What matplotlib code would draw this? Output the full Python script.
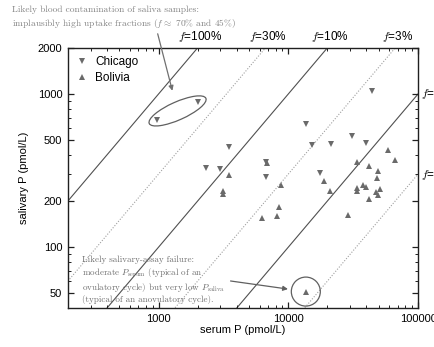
import numpy as np
import matplotlib
matplotlib.use('Agg')
import matplotlib.pyplot as plt
from matplotlib.patches import Ellipse, Circle
from matplotlib.transforms import ScaledTranslation
from matplotlib.ticker import FixedLocator, NullFormatter, FixedFormatter

plt.rcParams.update({'font.family': ['Liberation Sans', 'DejaVu Sans'],
                     'font.size': 8, 'mathtext.fontset': 'cm'})

# data (pmol/L)
chicago_serum = [2010, 977, 3490, 2340, 2960, 43900, 13800, 15300, 21300,
                 31100, 39500, 6700, 17500, 6700]
chicago_saliva = [887, 678, 453, 330, 324, 1046, 641, 467, 471,
                  533, 476, 286, 304, 362]
bolivia_serum = [3490, 3140, 3140, 8860, 8490, 8200, 6320, 18900, 20900,
                 28600, 33600, 41900, 49300, 48000, 58300, 66400, 33600,
                 33600, 37800, 39500, 50900, 47100, 49300, 41900, 13650, 6900]
bolivia_saliva = [294, 231, 223, 256, 183, 159, 154, 272, 234,
                  163, 358, 337, 313, 284, 431, 371, 244,
                  234, 253, 247, 241, 229, 218, 205, 51.3, 356]

f_solid = [1.0, 0.1, 0.01]
f_dotted = [0.3, 0.03, 0.003]
f_labels = {1.0: '100%', 0.3: '30%', 0.1: '10%', 0.03: '3%',
            0.01: '1%', 0.003: '0.3%'}

xlim = (200, 100000)
ylim = (40, 2000)

fig = plt.figure(figsize=(4.35, 3.47), dpi=100)
ax = fig.add_axes([0.156, 0.112, 0.805, 0.75])

xs = np.array(xlim)
for f in f_solid:
    ax.plot(xs, f * xs, color='#505050', lw=0.8, zorder=1)
for f in f_dotted:
    ax.plot(xs, f * xs, color='#a0a0a0', lw=0.8, ls=(0, (1, 1.5)), zorder=1)

ax.plot(chicago_serum, chicago_saliva, 'v', color='#6a6a6a', ms=4.2,
        mew=0, label='Chicago', zorder=3)
ax.plot(bolivia_serum, bolivia_saliva, '^', color='#6a6a6a', ms=4.2,
        mew=0, label='Bolivia', zorder=3)

ax.set_xscale('log')
ax.set_yscale('log')
ax.set_xlim(*xlim)
ax.set_ylim(*ylim)

ax.xaxis.set_major_locator(FixedLocator([1000, 10000, 100000]))
ax.xaxis.set_major_formatter(FixedFormatter(['1000', '10000', '100000']))
xminor = [m * 10 ** e for e in (2, 3, 4) for m in range(2, 10)]
ax.xaxis.set_minor_locator(FixedLocator(xminor))
ax.xaxis.set_minor_formatter(NullFormatter())
yticks = [50, 100, 200, 500, 1000, 2000]
ax.yaxis.set_major_locator(FixedLocator(yticks))
ax.yaxis.set_major_formatter(FixedFormatter([str(t) for t in yticks]))
ax.yaxis.set_minor_locator(FixedLocator([60, 70, 80, 90, 300, 400, 600,
                                         700, 800, 900]))
ax.yaxis.set_minor_formatter(NullFormatter())
ax.tick_params(which='both', direction='in', top=True, right=True,
               color='#202020', labelsize=8)
ax.tick_params(which='major', length=4, width=0.9, pad=4)
ax.tick_params(which='minor', length=2.2, width=0.7)
for s in ax.spines.values():
    s.set_linewidth(1.0)
    s.set_color('#202020')

ax.set_xlabel('serum P (pmol/L)', fontsize=8, labelpad=1)
ax.set_ylabel('salivary P (pmol/L)', fontsize=8, labelpad=6)

# uptake-fraction labels where each line leaves the box
for f in f_solid + f_dotted:
    lab = '$f$=' + f_labels[f]
    if f * xlim[1] >= ylim[1]:
        ax.annotate(lab, (ylim[1] / f, ylim[1]), xytext=(2, 3),
                    textcoords='offset points', ha='center', va='bottom',
                    fontsize=8.5, annotation_clip=False)
    else:
        ax.annotate(lab, (xlim[1], f * xlim[1]), xytext=(2, 0),
                    textcoords='offset points', ha='left', va='center',
                    fontsize=8.5, annotation_clip=False)

leg = ax.legend(loc='upper left', frameon=False, fontsize=8.5,
                handlelength=1.0, handletextpad=0.6, labelspacing=0.3,
                borderaxespad=0.4, borderpad=0.3)

# ellipse around the two implausible Chicago samples
ex = np.sqrt(chicago_serum[0] * chicago_serum[1])
ey = np.sqrt(chicago_saliva[0] * chicago_saliva[1])
ell = Ellipse((0, 0), width=0.62, height=0.18, angle=24, fill=False,
              ec='#606060', lw=0.9,
              transform=fig.dpi_scale_trans + ScaledTranslation(ex, ey, ax.transData))
ax.add_patch(ell)

# circle around the low-saliva Bolivia sample
cx, cy = bolivia_serum[24], bolivia_saliva[24]
circ = Circle((0, 0), radius=0.145, fill=False, ec='#606060', lw=0.9,
              transform=fig.dpi_scale_trans + ScaledTranslation(cx, cy, ax.transData))
ax.add_patch(circ)

serif = 'cmr10'
ax.annotate('Likely blood contamination of saliva samples:\n'
            r'implausibly high uptake fractions ($f\approx$ 70% and 45%)',
            xy=(ex, ey), xytext=(12, 341), textcoords='figure pixels',
            ha='left', va='top', fontsize=6.8, family=serif, color='#858585',
            linespacing=1.25, annotation_clip=False,
            arrowprops=dict(arrowstyle='-|>', color='#707070', lw=0.9,
                            mutation_scale=7, shrinkA=1, shrinkB=15,
                            relpos=(0.645, 0.0)))

ax.annotate('Likely salivary-assay failure:\n'
            r'moderate $P_{\rm serum}$ (typical of an' '\n'
            r'ovulatory cycle) but very low $P_{\rm saliva}$' '\n'
            '(typical of an anovulatory cycle).',
            xy=(cx, cy), xytext=(82, 91), textcoords='figure pixels',
            ha='left', va='top', fontsize=6.5, family=serif, color='#707070',
            linespacing=1.2,
            arrowprops=dict(arrowstyle='-|>', color='#606060', lw=0.9,
                            mutation_scale=7, shrinkA=2, shrinkB=13,
                            relpos=(1.0, 0.5)))

fig.savefig('out.png', dpi=100)
